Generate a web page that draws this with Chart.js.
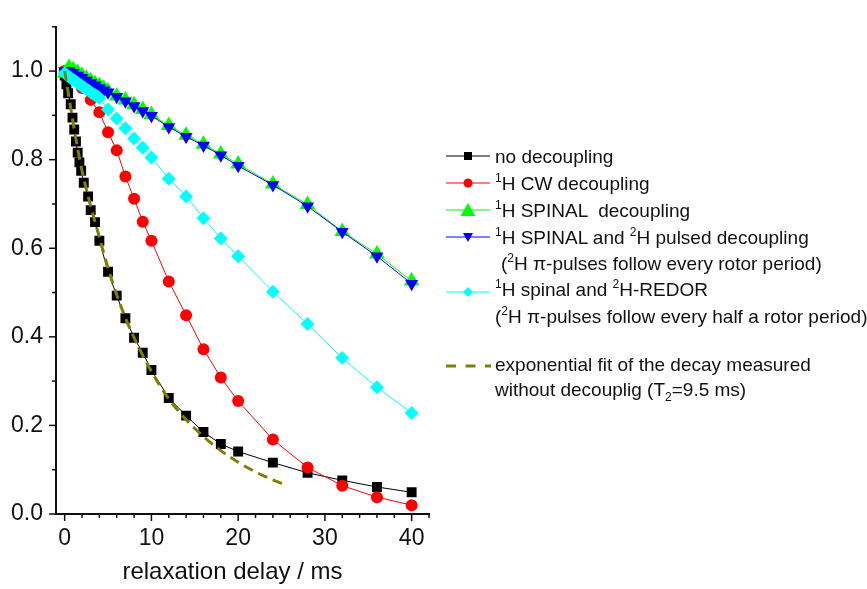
<!DOCTYPE html>
<html>
<head>
<meta charset="utf-8">
<script src="https://cdn.jsdelivr.net/npm/chart.js@4"></script>
<style>
body{margin:0;background:#fff;}
#wrap{position:relative;width:867px;height:589px;}
#legend{position:absolute;left:0;top:0;font-family:"Liberation Sans",Arial,sans-serif;font-size:19px;color:#111;}
.row{position:absolute;left:495px;line-height:22px;white-space:pre;}
.row sup,.row sub{font-size:12px;position:relative;vertical-align:0;line-height:0;}
.row sup{top:-8px;}
.row sub{top:5px;}
.smp{position:absolute;left:446px;}
</style>
</head>
<body>
<div id="wrap">
<canvas id="c" width="867" height="589"></canvas>
<div id="legend">
  <svg class="smp" style="top:148px" width="44" height="16"><line x1="0" y1="8" x2="44" y2="8" stroke="#000" stroke-width="1"/><rect x="18" y="4" width="8" height="8" fill="#000"/></svg>
  <div class="row" style="top:146px">no decoupling</div>
  <svg class="smp" style="top:175px" width="44" height="16"><line x1="0" y1="8" x2="44" y2="8" stroke="#f00" stroke-width="1"/><circle cx="22" cy="8" r="4.5" fill="#f00"/></svg>
  <div class="row" style="top:173px"><sup>1</sup>H CW decoupling</div>
  <svg class="smp" style="top:202px" width="44" height="16"><line x1="0" y1="8" x2="44" y2="8" stroke="#0f0" stroke-width="1"/><polygon points="22,1 29.5,14 14.5,14" fill="#0f0"/></svg>
  <div class="row" style="top:200px"><sup>1</sup>H SPINAL  decoupling</div>
  <svg class="smp" style="top:229px" width="44" height="16"><line x1="0" y1="8" x2="44" y2="8" stroke="#00f" stroke-width="1"/><polygon points="17,4 27,4 22,13" fill="#00f"/></svg>
  <div class="row" style="top:227px"><sup>1</sup>H SPINAL and <sup>2</sup>H pulsed decoupling</div>
  <div class="row" style="top:253px;left:501px">(<sup>2</sup>H π-pulses follow every rotor period)</div>
  <svg class="smp" style="top:284px" width="44" height="16"><line x1="0" y1="8" x2="44" y2="8" stroke="#0ff" stroke-width="1"/><polygon points="22,3 27,8 22,13 17,8" fill="#0ff"/></svg>
  <div class="row" style="top:279px"><sup>1</sup>H spinal and <sup>2</sup>H-REDOR</div>
  <div class="row" style="top:306px">(<sup>2</sup>H π-pulses follow every half a rotor period)</div>
  <svg class="smp" style="top:358px" width="46" height="16"><line x1="0" y1="8" x2="45" y2="8" stroke="#808000" stroke-width="3" stroke-dasharray="10 9.5"/></svg>
  <div class="row" style="top:354px">exponential fit of the decay measured</div>
  <div class="row" style="top:379px">without decouplig (T<sub>2</sub>=9.5 ms)</div>
</div>
</div>
<script>
// no decoupling
const noDecX=[0,0.2,0.4,0.7,0.9,1.1,1.3,1.5,1.7,1.9,2.2,2.7,3.0,3.5,4,5,6,7,8,9,10,12,14,16,18,20,24,28,32,36,40];
const noDecY=[0.99,0.97,0.95,0.925,0.895,0.868,0.841,0.816,0.794,0.775,0.748,0.717,0.686,0.659,0.617,0.547,0.493,0.442,0.398,0.364,0.325,0.262,0.222,0.185,0.158,0.141,0.116,0.093,0.076,0.061,0.049];
// 1H CW decoupling
const cwX=[0,1,2,3,4,5,6,7,8,9,10,12,14,16,18,20,24,28,32,36,40];
const cwY=[1.0,0.985,0.962,0.935,0.907,0.862,0.821,0.762,0.712,0.66,0.617,0.525,0.449,0.372,0.308,0.255,0.168,0.105,0.064,0.038,0.02];
// 1H SPINAL (green) and SPINAL + 2H pulsed (blue)
const spinX=[0,0.5,1,1.5,2,2.5,3,3.5,4,4.5,5,6,7,8,9,10,12,14,16,18,20,24,28,32,36,40];
const spinY=[0.995,1.008,1.003,0.997,0.99,0.984,0.978,0.972,0.967,0.961,0.955,0.944,0.935,0.924,0.913,0.902,0.877,0.855,0.835,0.813,0.79,0.745,0.699,0.638,0.587,0.526];
const pulsedY=[1.0,1.0,0.996,0.99,0.985,0.979,0.973,0.968,0.962,0.957,0.952,0.942,0.932,0.921,0.91,0.899,0.874,0.852,0.832,0.81,0.786,0.743,0.695,0.637,0.582,0.52];
// 1H spinal + 2H-REDOR
const redorX=[0,0.25,0.5,0.75,1,1.25,1.5,1.75,2,2.25,2.5,2.75,3,3.25,3.5,3.75,4,5,6,7,8,9,10,12,14,16,18,20,24,28,32,36,40];
const redorY=[0.995,0.991,0.987,0.984,0.98,0.977,0.973,0.97,0.966,0.963,0.959,0.956,0.952,0.949,0.946,0.943,0.94,0.913,0.893,0.871,0.848,0.827,0.805,0.757,0.717,0.668,0.622,0.582,0.502,0.429,0.352,0.286,0.228];
// exponential fit
const fitX=[0,0.5,1,1.5,2,3,4,5,6,7,8,9,10,12,14,16,18,20,22,24,25.5];
const fitY=[1.0,0.94,0.88,0.825,0.775,0.695,0.625,0.555,0.495,0.443,0.398,0.358,0.322,0.26,0.213,0.175,0.143,0.117,0.095,0.077,0.065];

const pts=(xs,ys)=>xs.map((v,i)=>({x:v,y:ys[i]}));
const font='"Liberation Sans", Arial, sans-serif';

const axisTicks={
    id:'axisTicks',
    afterDraw(chart){
        const ctx=chart.ctx, a=chart.chartArea, x=chart.scales.x, y=chart.scales.y;
        ctx.save();
        ctx.strokeStyle='#111';
        ctx.lineWidth=1.5;
        for(let v=0;v<=42;v+=2){
            const px=x.getPixelForValue(v);
            const len=(v%10===0)?7:4;
            ctx.beginPath();ctx.moveTo(px,a.bottom);ctx.lineTo(px,a.bottom+len);ctx.stroke();
        }
        for(let i=0;i<=11;i++){
            const py=y.getPixelForValue(i/10);
            const len=(i%2===0)?7:4;
            ctx.beginPath();ctx.moveTo(a.left,py);ctx.lineTo(a.left-len,py);ctx.stroke();
        }
        ctx.restore();
    }
};

new Chart(document.getElementById('c'),{
    type:'line',
    data:{datasets:[
        {data:pts(noDecX,noDecY),borderColor:'#000',backgroundColor:'#000',borderWidth:1,pointStyle:'rect',pointRadius:7,pointBorderWidth:0,order:5},
        {data:pts(cwX,cwY),borderColor:'#ff0000',backgroundColor:'#ff0000',borderWidth:1,pointStyle:'circle',pointRadius:6,pointBorderWidth:0,order:4},
        {data:pts(spinX,spinY),borderColor:'#00ff00',backgroundColor:'#00ff00',borderWidth:1,pointStyle:'triangle',pointRadius:9,pointBorderWidth:0,order:3},
        {data:pts(spinX,pulsedY),borderColor:'#0000ff',backgroundColor:'#0000ff',borderWidth:1,pointStyle:'triangle',pointRotation:180,pointRadius:7.5,pointBorderWidth:0,order:2},
        {data:pts(redorX,redorY),borderColor:'#00ffff',backgroundColor:'#00ffff',borderWidth:1,pointStyle:'rectRot',pointRadius:7,pointBorderWidth:0,order:1},
        {data:pts(fitX,fitY),borderColor:'#808000',borderWidth:3,borderDash:[10,6],pointRadius:0,cubicInterpolationMode:'monotone',order:0}
    ]},
    options:{
        responsive:false,
        animation:false,
        layout:{padding:{left:0,top:13,right:438,bottom:0}},
        plugins:{legend:{display:false},tooltip:{enabled:false}},
        scales:{
            x:{
                type:'linear',min:-1,max:42,
                afterFit:(s)=>{s.height=75;},
                grid:{drawOnChartArea:false,drawTicks:false},
                border:{display:true,color:'#111',width:2},
                ticks:{stepSize:10,includeBounds:false,padding:11,color:'#111',font:{family:font,size:23}},
                // trailing spaces push the centred title a little left, as in the original
                title:{display:true,text:'relaxation delay / ms   ',color:'#111',font:{family:font,size:24},padding:{top:0,bottom:2}}
            },
            y:{
                min:0,max:1.1,
                afterFit:(s)=>{s.width=56;},
                grid:{drawOnChartArea:false,drawTicks:false},
                border:{display:true,color:'#111',width:2},
                ticks:{stepSize:0.2,includeBounds:false,padding:13,color:'#111',font:{family:font,size:23},callback:(v)=>v.toFixed(1)}
            }
        }
    },
    plugins:[axisTicks]
});
</script>
</body>
</html>
